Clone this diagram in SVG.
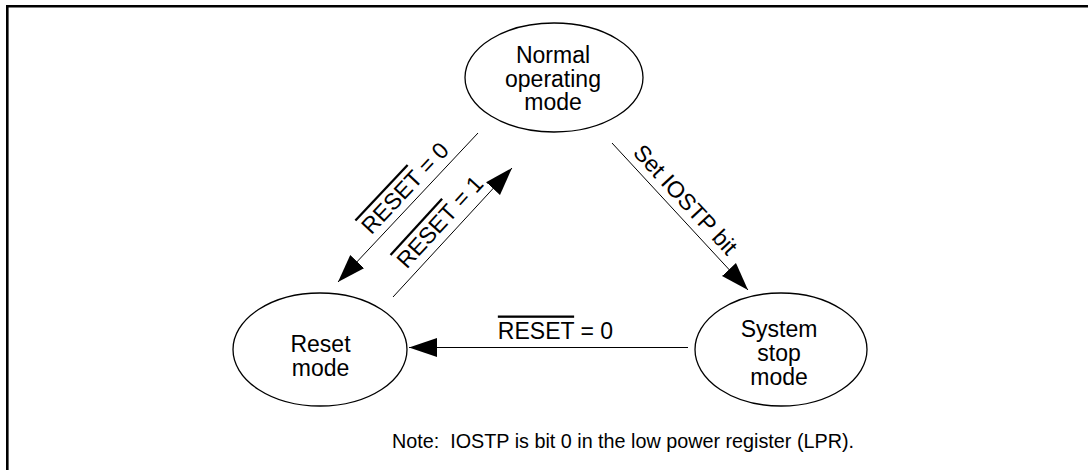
<svg xmlns="http://www.w3.org/2000/svg" width="1088" height="470" viewBox="0 0 1088 470">
<style>
.node ellipse{fill:#fff;stroke:#000;stroke-width:1.3}
.lbl{font-family:"Liberation Sans",Arial,sans-serif;font-size:23px;fill:#000;text-anchor:middle}
.ov{text-decoration:overline}
.edge{stroke:#000;stroke-width:1;fill:none;marker-end:url(#ah)}
.note{font-family:"Liberation Sans Narrow","Liberation Sans",Arial,sans-serif;font-size:21px;fill:#000;text-anchor:middle;white-space:pre}
</style>
<defs>
<marker id="ah" markerUnits="userSpaceOnUse" markerWidth="28" markerHeight="20" viewBox="0 -10 28 20" refX="28" refY="0" orient="auto">
<path d="M28,0 L0,-9.5 L0,9.5 z" fill="#000"/>
</marker>
</defs>
<rect width="1088" height="470" fill="#fff"/>
<path d="M7.3,470 V6.3 H1088" fill="none" stroke="#000" stroke-width="2.6"/>

<g id="connectors">
<line class="edge" x1="478" y1="133" x2="338" y2="282"/>
<line class="edge" x1="393" y1="297" x2="512" y2="168"/>
<line class="edge" x1="612" y1="143" x2="748" y2="290"/>
<line class="edge" x1="688" y1="347.5" x2="409" y2="347.5"/>
<text class="lbl" transform="translate(410.8,193.5) rotate(-46.8)"><tspan class="ov">RESET</tspan> = 0</text>
<text class="lbl" transform="translate(445.6,227.3) rotate(-47.5)"><tspan class="ov">RESET</tspan> = 1</text>
<text class="lbl" transform="translate(679.6,205) rotate(47.2)">Set IOSTP bit</text>
<text class="lbl" x="555.5" y="338.5"><tspan class="ov">RESET</tspan> = 0</text>
</g>

<g id="node-normal" class="node">
<ellipse cx="554" cy="77.5" rx="89" ry="54.5"/>
<text class="lbl" x="553" y="63">Normal</text>
<text class="lbl" x="553" y="86.5">operating</text>
<text class="lbl" x="553" y="110">mode</text>
</g>

<g id="node-reset" class="node">
<ellipse cx="320" cy="349.5" rx="87" ry="56.5"/>
<text class="lbl" x="320.5" y="352">Reset</text>
<text class="lbl" x="320.5" y="375.5">mode</text>
</g>

<g id="node-system" class="node">
<ellipse cx="781" cy="349.5" rx="86" ry="56.5"/>
<text class="lbl" x="779" y="337">System</text>
<text class="lbl" x="779" y="361">stop</text>
<text class="lbl" x="779" y="385">mode</text>
</g>

<text class="note" x="623" y="448" textLength="462" lengthAdjust="spacingAndGlyphs" xml:space="preserve">Note:  IOSTP is bit 0 in the low power register (LPR).</text>
</svg>
